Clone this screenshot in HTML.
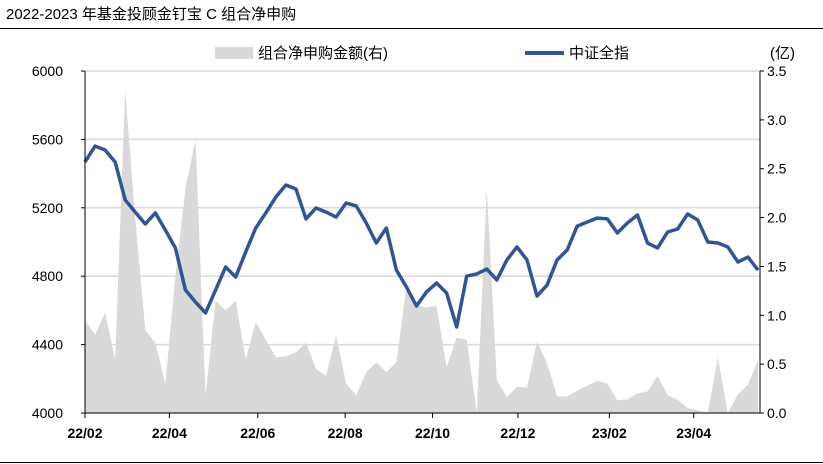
<!DOCTYPE html>
<html><head><meta charset="utf-8"><style>
body{margin:0;width:823px;height:464px;background:#fff;overflow:hidden;font-family:"Liberation Sans","Noto Sans CJK SC",sans-serif;}
</style></head><body>
<svg id="c" width="823" height="464" style="position:absolute;left:0;top:0;font-family:'Liberation Sans','Noto Sans CJK SC',sans-serif">
<text x="6" y="19" font-size="15" fill="#000">2022-2023 年基金投顾金钉宝 C 组合净申购</text>
<line x1="0" y1="28.5" x2="823" y2="28.5" stroke="#000" stroke-width="1"/>
<line x1="0" y1="462.5" x2="823" y2="462.5" stroke="#000" stroke-width="1"/>
<g>
<rect x="215" y="47" width="38" height="12" fill="#d9d9d9"/>
<text x="258" y="58" font-size="15">组合净申购金额(右)</text>
<line x1="525" y1="53" x2="564" y2="53" stroke="#2f5597" stroke-width="4"/>
<text x="569" y="58" font-size="15">中证全指</text>
</g>
<text x="770" y="58" font-size="15">(亿)</text>
<g id="grid"></g><g id="area"></g><g id="line"></g><g id="axes"></g>
</svg>
<script>
const lineValues=[5468,5561,5538,5468,5246,5175,5105,5170,5070,4965,4719,4649,4585,4719,4854,4795,4942,5082,5170,5263,5333,5310,5135,5199,5175,5146,5228,5211,5111,4994,5082,4836,4737,4626,4708,4760,4702,4503,4801,4813,4842,4778,4895,4971,4895,4684,4748,4895,4953,5093,5117,5140,5135,5053,5111,5158,4994,4965,5058,5076,5164,5129,5000,4994,4971,4883,4912,4836];
const areaValues=[0.95,0.8,1.03,0.55,3.3,2.0,0.85,0.72,0.3,1.4,2.3,2.8,0.18,1.15,1.05,1.15,0.55,0.93,0.75,0.57,0.58,0.62,0.72,0.45,0.38,0.8,0.3,0.18,0.42,0.52,0.42,0.52,1.3,1.1,1.08,1.1,0.47,0.77,0.75,0,2.3,0.34,0.16,0.27,0.26,0.73,0.51,0.17,0.17,0.23,0.28,0.33,0.3,0.13,0.14,0.2,0.22,0.38,0.18,0.14,0.05,0.03,0,0.57,0,0.19,0.29,0.54];
const leftTicks=[4000,4400,4800,5200,5600,6000];
const rightTicks=["0.0","0.5","1.0","1.5","2.0","2.5","3.0","3.5"];
const xTickLabels=["22/02","22/04","22/06","22/08","22/10","22/12","23/02","23/04"];
const xTickIndex=[0,8.4,17.2,25.9,34.6,43.1,52.2,60.6];
const X0=85,X1=758,Y0=413,Y1=71;
const n=lineValues.length;
const xs=i=>X0+(X1-X0)*i/(n-1);
const yl=v=>Y0-(v-4000)/2000*(Y0-Y1);
const yr=v=>Y0-v/3.5*(Y0-Y1);
const NS="http://www.w3.org/2000/svg";
function mk(t,a,p){const e=document.createElementNS(NS,t);for(const k in a)e.setAttribute(k,a[k]);p.appendChild(e);return e;}
const g=document.getElementById('grid'),ga=document.getElementById('area'),gl=document.getElementById('line'),ax=document.getElementById('axes');
leftTicks.forEach(v=>{
 const l=mk('line',{x1:X0,x2:760,y1:yl(v),y2:yl(v),stroke:'#d9d9d9','stroke-width':1.5},g);
 
 
 const t=mk('text',{x:63,y:yl(v)+5,'font-size':14,'text-anchor':'end'},ax);t.textContent=v;
 
 
});
rightTicks.forEach(v=>{
 const y=yr(+v);
 const tk=mk('line',{x1:760,x2:764,y1:y,y2:y,stroke:'#000'},ax);
 
 
 const t=mk('text',{x:767,y:y+5,'font-size':14},ax);t.textContent=v;
 
 
});
let d='M'+xs(0)+','+Y0;
areaValues.forEach((v,i)=>{d+=' L'+xs(i)+','+yr(v);});
d+=' L'+xs(n-1)+','+Y0+' Z';
const ar=mk('path',{d:d,fill:'#d9d9d9'},ga);


const pl=mk('polyline',{points:lineValues.map((v,i)=>xs(i)+','+yl(v)).join(' '),fill:'none',stroke:'#2f5597','stroke-width':3.5,'stroke-linejoin':'round'},gl);


const a1=mk('line',{x1:X0,x2:X0,y1:Y1,y2:Y0,stroke:'#000'},ax);


const a2=mk('line',{x1:760,x2:760,y1:Y1,y2:Y0,stroke:'#000'},ax);


const a3=mk('line',{x1:X0,x2:760,y1:Y0,y2:Y0,stroke:'#000'},ax);


leftTicks.forEach(v=>{const t=mk('line',{x1:X0-4,x2:X0,y1:yl(v),y2:yl(v),stroke:'#000'},ax);
 
 });
xTickLabels.forEach((s,k)=>{
 const x=xs(xTickIndex[k]);
 const tk=mk('line',{x1:x,x2:x,y1:Y0,y2:Y0+5,stroke:'#000'},ax);
 
 
 const t=mk('text',{x:x,y:Y0+25,'font-size':14,'font-weight':'bold','text-anchor':'middle'},ax);t.textContent=s;
 
 
});
</script>
</body></html>
